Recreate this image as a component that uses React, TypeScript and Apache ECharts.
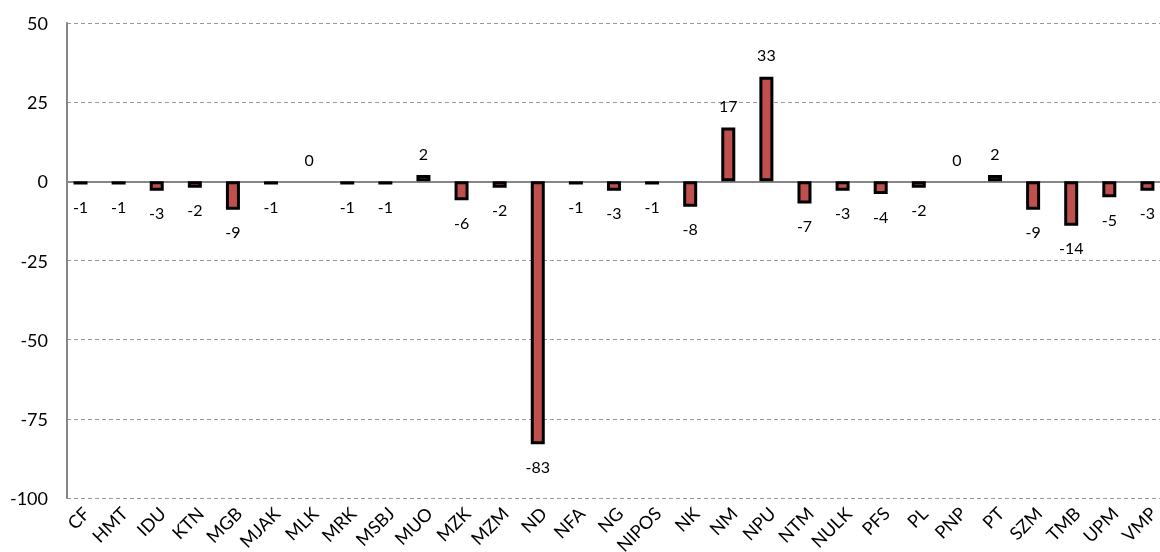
import React, { useEffect, useRef } from "react";
import * as echarts from "echarts";

const categories = ["CF","HMT","IDU","KTN","MGB","MJAK","MLK","MRK","MSBJ","MUO","MZK","MZM","ND","NFA","NG","NIPOS","NK","NM","NPU","NTM","NULK","PFS","PL","PNP","PT","SZM","TMB","UPM","VMP"];
const values = [-1,-1,-3,-2,-9,-1,0,-1,-1,2,-6,-2,-83,-1,-3,-1,-8,17,33,-7,-3,-4,-2,0,2,-9,-14,-5,-3];
const yTicks = { min: -100, max: 50, interval: 25 };

export default function App() {
  const ref = useRef<HTMLDivElement>(null);
  useEffect(() => {
    const chart = echarts.init(ref.current!, null, { renderer: "svg" });
    const font = "Lato, 'Open Sans', sans-serif";
    chart.setOption({
      animation: false,
      grid: { left: 67, right: -12, top: 23, bottom: 54, containLabel: false, outerBoundsMode: "none" },
      xAxis: {
        type: "category",
        data: categories,
        axisLine: { onZero: true, lineStyle: { color: "#868686", width: 2 } },
        axisTick: { show: false },
        axisLabel: { rotate: 45, interval: 0, fontSize: 18, color: "#000", fontFamily: font, margin: 12 },
      },
      yAxis: {
        type: "value",
        min: yTicks.min,
        max: yTicks.max,
        interval: yTicks.interval,
        axisLine: { show: true, lineStyle: { color: "#868686", width: 2 } },
        axisTick: { show: false },
        axisLabel: { fontSize: 18, color: "#000", fontFamily: font, margin: 19 },
        splitLine: { lineStyle: { color: "#999", type: [4, 3], width: 1 } },
      },
      series: [
        {
          type: "bar",
          barWidth: 14,
          barGap: "-21%",
          data: values.map((v) => ({
            value: v,
            label: { position: v >= 0 ? "top" : "bottom" },
            itemStyle: v === 0 ? { borderWidth: 0 } : undefined,
          })),
          itemStyle: { color: "#C0504D", borderColor: "#000", borderWidth: 3 },
          label: { show: true, fontSize: 16, color: "#000", fontFamily: font, distance: 14 },
        },
        {
          type: "bar",
          barWidth: 14,
          data: values.map(() => null),
          silent: true,
        },
      ],
    });
    return () => chart.dispose();
  }, []);
  return <div ref={ref} style={{ position: "fixed", left: 0, top: 0, width: 1160, height: 552 }} />;
}
